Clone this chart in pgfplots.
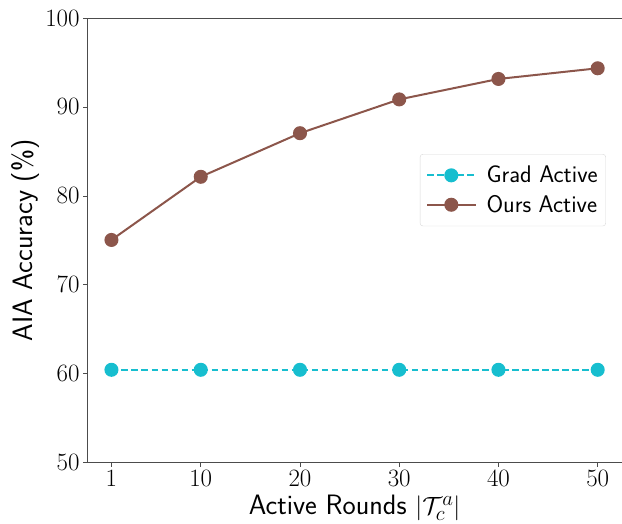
\documentclass[border=0pt]{standalone}
\usepackage{pgfplots}
\pgfplotsset{compat=1.18}
\definecolor{tabcyan}{HTML}{17BECF}
\definecolor{tabbrown}{HTML}{8C564B}
\begin{document}
\begin{tikzpicture}
\begin{axis}[
  scale only axis,
  width=534pt, height=444pt,
  xmin=-1.45, xmax=52.45,
  ymin=50, ymax=100,
  xtick={1,10,20,30,40,50},
  ytick={50,60,70,80,90,100},
  xtick pos=bottom, ytick pos=left,
  tick align=outside,
  major tick length=4pt,
  tick style={black!70, line width=0.8pt},
  axis line style={black!70, line width=0.8pt},
  ticklabel style={font=\fontsize{26}{29}\selectfont},
  xlabel={\sffamily Active Rounds $|\mathcal{T}_c^a|$},
  ylabel={\sffamily AIA Accuracy (\%)},
  label style={font=\fontsize{28}{32}\selectfont},
  xlabel style={at={(axis description cs:0.5,0)}, anchor=base, yshift=-52pt},
  ylabel style={at={(axis description cs:0,0.5)}, anchor=base, yshift=55pt},
  legend style={at={(axis description cs:0.796,0.613)}, anchor=center, font=\fontsize{24}{27}\selectfont\sffamily, draw=black!15, rounded corners=3pt, inner xsep=6pt, inner ysep=10pt, row sep=7pt, column sep=8pt},
  legend cell align=left,
  legend image code/.code={
    \draw[mark repeat=2,mark phase=2,#1] plot coordinates {(0cm,0cm) (0.85cm,0cm) (1.7cm,0cm)};
  },
]
\coordinate (sw) at (rel axis cs:0,0);
\coordinate (ne) at (rel axis cs:1,1);
\addplot[tabcyan, line width=2pt, dash pattern=on 6.5pt off 3.5pt, mark=*, mark size=6pt, mark options={solid}] coordinates {
(1,60.45) (10,60.45) (20,60.45) (30,60.45) (40,60.45) (50,60.45)};
\addlegendentry{Grad Active}
\addplot[tabbrown, line width=2pt, mark=*, mark size=6pt] coordinates {
(1,75.05) (10,82.15) (20,87.05) (30,90.85) (40,93.15) (50,94.35)};
\addlegendentry{Ours Active}
\end{axis}
\pgfresetboundingbox
\path ([shift={(-87pt,-61pt)}]sw) rectangle ([shift={(0pt,18pt)}]ne);
\end{tikzpicture}
\end{document}
